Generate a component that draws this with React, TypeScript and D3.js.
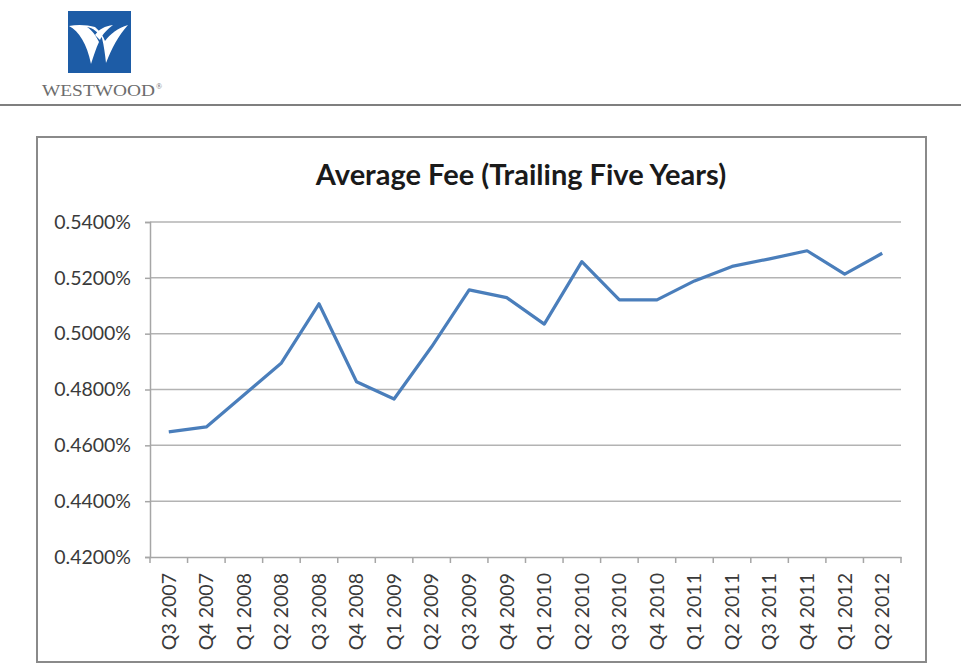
import { useEffect, useRef } from "react";
import * as d3 from "d3";

const quarters = [
  "Q3 2007", "Q4 2007", "Q1 2008", "Q2 2008", "Q3 2008", "Q4 2008",
  "Q1 2009", "Q2 2009", "Q3 2009", "Q4 2009", "Q1 2010", "Q2 2010",
  "Q3 2010", "Q4 2010", "Q1 2011", "Q2 2011", "Q3 2011", "Q4 2011",
  "Q1 2012", "Q2 2012",
];

// average fee in percent
const avgFee = [
  0.4648, 0.4666, 0.478, 0.4895, 0.5107, 0.4828,
  0.4766, 0.4953, 0.5157, 0.5129, 0.5034, 0.5258,
  0.5121, 0.5121, 0.5189, 0.5241, 0.5268, 0.5297,
  0.5213, 0.5288,
];

const yTicks = [0.42, 0.44, 0.46, 0.48, 0.5, 0.52, 0.54];

const title = "Average Fee (Trailing Five Years)";

const font = "Lato, 'Open Sans', sans-serif";

const App = () => {
  const svgRef = useRef<SVGSVGElement | null>(null);

  useEffect(() => {
    d3.select(svgRef.current).selectAll("*").remove();

    const svg = d3.select(svgRef.current).attr("width", 961).attr("height", 665);

    // header: logo + rule
    const logo = svg.append("g").attr("transform", "translate(68,11)");
    logo.append("rect").attr("width", 63).attr("height", 62).attr("fill", "#1d5ca6");
    logo
      .append("path")
      .attr("d", "M1,15 C11,20 19,33 23,53 C26,44 28,37 31,31 C28,25 25,20 19,16 C25,17 30,21 34,27 C36,35 37,43 38,52 C44,37 50,25 60,14 C50,17 42,23 37,30 C35,25 32,20 27,16 C20,14 10,13 1,15 Z")
      .attr("fill", "#ffffff");
    logo
      .append("path")
      .attr("d", "M27,24 C31,18 37,15 45,14 C40,18 35,22 32,29 Z")
      .attr("fill", "#ffffff");

    svg
      .append("text")
      .attr("x", 42)
      .attr("y", 96)
      .attr("font-family", "'Liberation Serif', 'DejaVu Serif', serif")
      .attr("font-size", 17)
      .attr("fill", "#6d6d6d")
      .attr("textLength", 113)
      .attr("lengthAdjust", "spacingAndGlyphs")
      .text("WESTWOOD");
    svg
      .append("text")
      .attr("x", 156)
      .attr("y", 89)
      .attr("font-family", "'Liberation Serif', serif")
      .attr("font-size", 8)
      .attr("fill", "#6d6d6d")
      .text("®");

    svg
      .append("line")
      .attr("x1", 0)
      .attr("x2", 961)
      .attr("y1", 105)
      .attr("y2", 105)
      .attr("stroke", "#000")
      .attr("stroke-width", 1.2);

    // chart frame
    svg
      .append("rect")
      .attr("x", 37)
      .attr("y", 137)
      .attr("width", 889)
      .attr("height", 525)
      .attr("fill", "#fff")
      .attr("stroke", "#8a8a8a")
      .attr("stroke-width", 2);

    svg
      .append("text")
      .attr("x", 521)
      .attr("y", 185)
      .attr("text-anchor", "middle")
      .attr("font-family", font)
      .attr("font-weight", 700)
      .attr("font-size", 29)
      .attr("fill", "#1a1a1a")
      .text(title);

    const left = 150;
    const right = 901;
    const top = 222;
    const bottom = 557;

    const x = d3.scaleBand().domain(quarters).range([left, right]).padding(0);
    const y = d3.scaleLinear().domain([0.42, 0.54]).range([bottom, top]);

    // gridlines
    svg
      .append("g")
      .selectAll("line")
      .data(yTicks.slice(1))
      .enter()
      .append("line")
      .attr("x1", left)
      .attr("x2", right)
      .attr("y1", (d) => y(d))
      .attr("y2", (d) => y(d))
      .attr("stroke", "#b3b3b3")
      .attr("stroke-width", 1.5);

    const yAxis = d3
      .axisLeft(y)
      .tickValues(yTicks)
      .tickSize(5)
      .tickPadding(14)
      .tickFormat((d) => `${(+d).toFixed(4)}%`);
    const gy = svg.append("g").attr("transform", `translate(${left},0)`).call(yAxis);
    gy.select(".domain").attr("stroke", "#a6a6a6").attr("stroke-width", 1.5);
    gy.selectAll(".tick line").attr("stroke", "#a6a6a6").attr("stroke-width", 1.5);
    gy.selectAll(".tick text")
      .attr("font-family", font)
      .attr("font-size", 19.5)
      .attr("fill", "#3a3a3a");

    const xAxis = d3.axisBottom(x).tickSize(0).tickSizeOuter(0);
    const gx = svg.append("g").attr("transform", `translate(0,${bottom})`).call(xAxis);
    gx.select(".domain").attr("stroke", "#a6a6a6").attr("stroke-width", 1.5);
    gx.selectAll(".tick text")
      .attr("font-family", font)
      .attr("font-size", 19.5)
      .attr("fill", "#3a3a3a")
      .attr("transform", "rotate(-90)")
      .attr("text-anchor", "end")
      .attr("x", -16)
      .attr("y", 0)
      .attr("dy", "0.35em");

    // category boundary ticks
    svg
      .append("g")
      .selectAll("line")
      .data(d3.range(quarters.length + 1))
      .enter()
      .append("line")
      .attr("x1", (i) => left + i * x.step())
      .attr("x2", (i) => left + i * x.step())
      .attr("y1", bottom)
      .attr("y2", bottom + 6)
      .attr("stroke", "#a6a6a6")
      .attr("stroke-width", 1.5);

    const line = d3
      .line<number>()
      .x((_d, i) => (x(quarters[i]) || 0) + x.bandwidth() / 2)
      .y((d) => y(d));

    svg
      .append("path")
      .datum(avgFee)
      .attr("d", line)
      .attr("fill", "none")
      .attr("stroke", "#4a7ebb")
      .attr("stroke-width", 3.2)
      .attr("stroke-linejoin", "round");
  });

  return (
    <div style={{ position: "absolute", left: 0, top: 0 }}>
      <svg ref={svgRef} style={{ display: "block" }} />
    </div>
  );
};

export default App;
